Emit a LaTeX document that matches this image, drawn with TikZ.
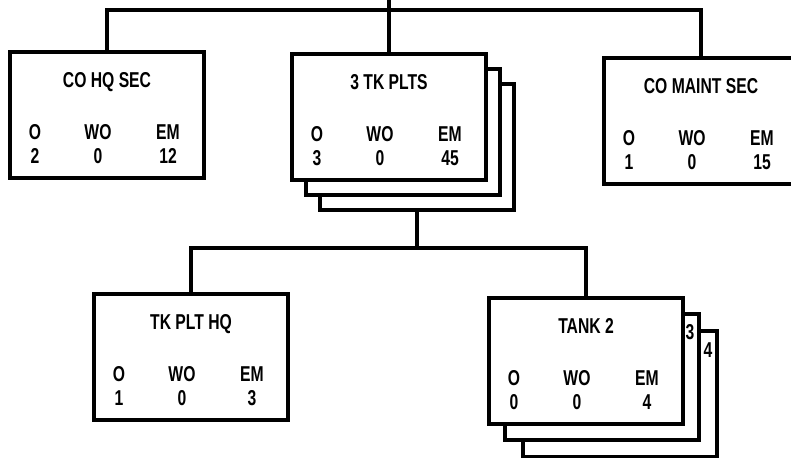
\documentclass[tikz,border=0pt]{standalone}
\usepackage{fontspec}
\setmainfont{Liberation Sans}[FakeStretch=0.73]
\usetikzlibrary{calc}
\tikzset{
  unitbox/.style={draw, line width=4.5pt, fill=white, minimum width=194pt, minimum height=126pt, inner sep=0pt, outer sep=0pt, anchor=north west},
  lbl/.style={inner sep=0pt, outer sep=0pt, text height=15.5pt, text depth=0pt, anchor=center, font=\fontsize{21.5}{22}\selectfont\bfseries},
  wire/.style={line width=4.5pt, line cap=rect, line join=miter},
}
\newcommand{\orgtext}[5]{%
  \node[lbl] (#1-title) at ($(#1.north west)+(97,28)$) {#2};
  \node[lbl] (#1-oh) at ($(#1.north west)+(25,80)$) {O};
  \node[lbl] (#1-woh) at ($(#1.north west)+(88,80)$) {WO};
  \node[lbl] (#1-emh) at ($(#1.north west)+(158,80)$) {EM};
  \node[lbl] (#1-ov) at ($(#1.north west)+(25,104)$) {#3};
  \node[lbl] (#1-wov) at ($(#1.north west)+(88,104)$) {#4};
  \node[lbl] (#1-emv) at ($(#1.north west)+(158,104)$) {#5};
}
\begin{document}
\begin{tikzpicture}[x=1pt,y=-1pt]
\useasboundingbox (0,0) rectangle (791,457);
\fill[white] (0,0) rectangle (791,457);
\clip (0,0) rectangle (791,457);
\coordinate (topedge) at (392,0);
\coordinate (bus1) at (392,10);
\coordinate (bus2) at (417,248);
% upper row
\node[unitbox] (cohq) at (10,52) {};
\node[unitbox] (tkplts3) at (320,84) {};
\node[unitbox] (tkplts2) at (306,69) {};
\node[unitbox] (tkplts) at (292,54) {};
\node[unitbox] (comaint) at (604,58) {};
% lower row
\node[unitbox] (tkplthq) at (94,294) {};
\node[unitbox] (tank4) at (523,331) {};
\node[unitbox] (tank3) at (505,314) {};
\node[unitbox] (tank2) at (489,298) {};
\orgtext{cohq}{CO HQ SEC}{2}{0}{12}
\orgtext{tkplts}{3 TK PLTS}{3}{0}{45}
\orgtext{comaint}{CO MAINT SEC}{1}{0}{15}
\orgtext{tkplthq}{TK PLT HQ}{1}{0}{3}
\orgtext{tank2}{TANK 2}{0}{0}{4}
\node[lbl] (lbl3) at ($(tank2.north west)+(201,34)$) {3};
\node[lbl] (lbl4) at ($(tank2.north west)+(219,52)$) {4};
% connectors
\draw[wire] (tkplts.north) -- (tkplts.north |- topedge);
\draw[wire] (cohq.north) |- (bus1) -| (comaint.north);
\draw[wire] (tkplts3.south) -- (tkplts3.south |- bus2);
\draw[wire] (tkplthq.north) |- (bus2) -| (tank2.north);
\end{tikzpicture}
\end{document}
